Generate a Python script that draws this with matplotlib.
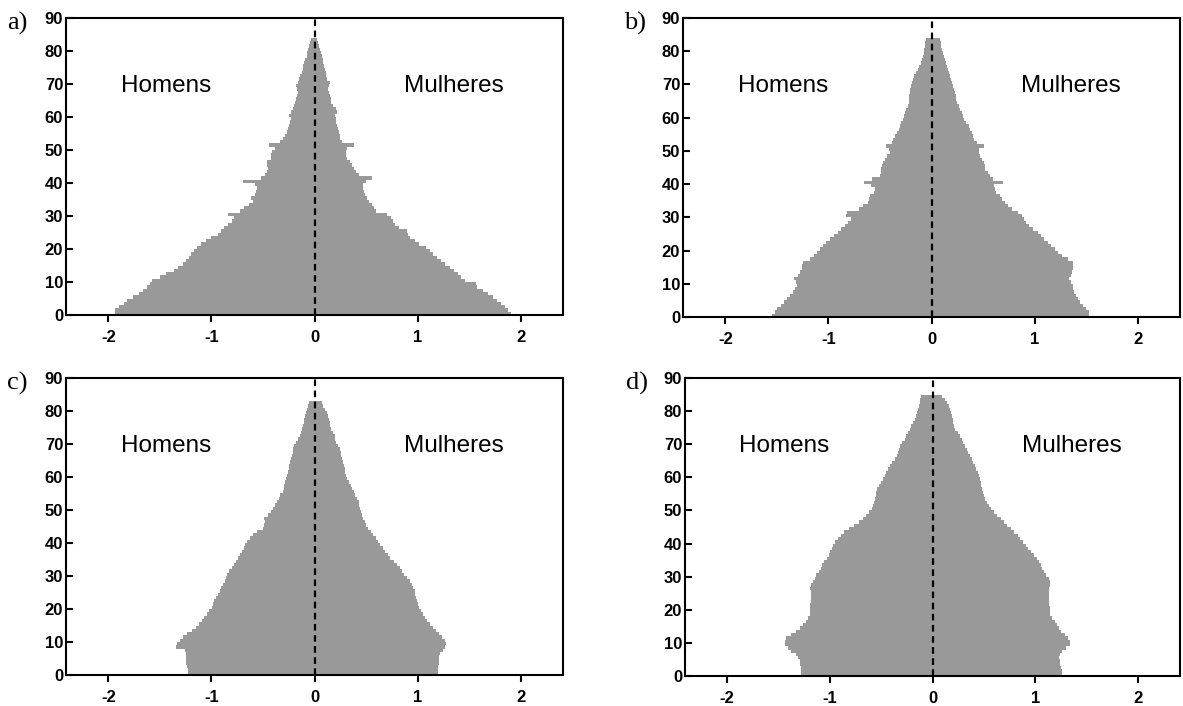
import numpy as np
from matplotlib import pyplot as plt

plt.rcParams['axes.unicode_minus'] = False

# valores por idade (0, 1, 2, ...), em % da populacao
a_hom = [1.93,1.93,1.90,1.85,1.82,1.76,1.70,1.66,1.62,1.60, 1.58,1.50,1.44,1.36,1.32,1.28,1.25,1.22,1.20,1.17,
         1.14,1.10,1.05,1.00,0.94,0.91,0.88,0.84,0.80,0.78, 0.84,0.72,0.68,0.64,0.60,0.62,0.58,0.57,0.56,0.58,
         0.69,0.52,0.48,0.46,0.45,0.46,0.46,0.42,0.42,0.41, 0.38,0.44,0.33,0.31,0.29,0.27,0.26,0.25,0.24,0.23,
         0.25,0.23,0.21,0.20,0.19,0.18,0.17,0.16,0.17,0.18, 0.16,0.15,0.14,0.12,0.11,0.11,0.10,0.09,0.07,0.07,
         0.06,0.05,0.04,0.03]
a_mul = [1.91,1.88,1.85,1.81,1.77,1.73,1.68,1.63,1.58,1.57, 1.46,1.42,1.39,1.35,1.31,1.27,1.23,1.19,1.15,1.12,
         1.08,1.01,0.97,0.93,0.91,0.90,0.82,0.78,0.76,0.74, 0.70,0.60,0.58,0.56,0.53,0.51,0.49,0.48,0.47,0.47,
         0.50,0.56,0.43,0.40,0.38,0.36,0.34,0.32,0.31,0.31, 0.32,0.38,0.27,0.25,0.25,0.24,0.23,0.22,0.21,0.21,
         0.20,0.22,0.21,0.18,0.16,0.16,0.15,0.14,0.13,0.14, 0.15,0.12,0.11,0.11,0.10,0.09,0.08,0.08,0.07,0.06,
         0.05,0.04,0.03,0.02]

b_hom = [1.55,1.52,1.50,1.46,1.43,1.40,1.37,1.34,1.32,1.30, 1.31,1.33,1.29,1.28,1.26,1.26,1.25,1.18,1.14,1.11,
         1.08,1.05,1.02,0.98,0.95,0.91,0.88,0.84,0.81,0.78, 0.83,0.82,0.70,0.66,0.62,0.61,0.60,0.56,0.55,0.59,
         0.65,0.58,0.50,0.49,0.49,0.48,0.47,0.45,0.43,0.40, 0.41,0.44,0.38,0.37,0.35,0.33,0.32,0.31,0.30,0.28,
         0.27,0.26,0.25,0.23,0.22,0.22,0.22,0.21,0.21,0.20, 0.19,0.18,0.17,0.15,0.13,0.12,0.10,0.09,0.08,0.07,
         0.07,0.06,0.06,0.05]
b_mul = [1.53,1.53,1.50,1.47,1.44,1.42,1.40,1.38,1.37,1.37, 1.35,1.33,1.35,1.36,1.37,1.37,1.37,1.32,1.27,1.23,
         1.20,1.16,1.13,1.09,1.06,1.03,0.98,0.95,0.92,0.90, 0.88,0.84,0.78,0.74,0.71,0.68,0.66,0.63,0.62,0.61,
         0.69,0.60,0.57,0.55,0.52,0.52,0.51,0.49,0.47,0.46, 0.46,0.51,0.44,0.41,0.40,0.39,0.37,0.36,0.33,0.32,
         0.31,0.30,0.28,0.27,0.25,0.24,0.24,0.23,0.22,0.21, 0.20,0.19,0.18,0.17,0.16,0.15,0.14,0.13,0.12,0.11,
         0.10,0.09,0.09,0.08]

c_hom = [1.23,1.23,1.24,1.25,1.25,1.25,1.25,1.26,1.34,1.33, 1.30,1.28,1.24,1.19,1.15,1.12,1.09,1.07,1.04,1.02,
         0.99,0.98,0.97,0.96,0.94,0.92,0.91,0.89,0.87,0.86, 0.85,0.83,0.80,0.78,0.76,0.74,0.72,0.70,0.68,0.67,
         0.65,0.63,0.60,0.56,0.50,0.49,0.48,0.49,0.45,0.42, 0.40,0.38,0.36,0.34,0.33,0.31,0.30,0.30,0.29,0.28,
         0.27,0.26,0.25,0.25,0.24,0.23,0.22,0.21,0.21,0.20, 0.18,0.16,0.14,0.13,0.12,0.11,0.10,0.10,0.09,0.08,
         0.07,0.06,0.05]
c_mul = [1.20,1.20,1.20,1.21,1.21,1.21,1.22,1.25,1.27,1.28, 1.27,1.24,1.21,1.18,1.15,1.12,1.09,1.07,1.05,1.03,
         1.01,1.00,0.99,0.98,0.97,0.97,0.96,0.95,0.93,0.90, 0.87,0.85,0.83,0.80,0.77,0.73,0.71,0.68,0.66,0.64,
         0.62,0.60,0.57,0.55,0.52,0.50,0.49,0.47,0.46,0.45, 0.44,0.43,0.43,0.41,0.39,0.38,0.36,0.35,0.33,0.32,
         0.31,0.30,0.30,0.29,0.28,0.27,0.26,0.26,0.25,0.23, 0.21,0.20,0.20,0.18,0.16,0.15,0.15,0.14,0.13,0.12,
         0.10,0.08,0.07]

d_hom = [1.28,1.28,1.28,1.29,1.29,1.31,1.33,1.38,1.41,1.44, 1.44,1.43,1.38,1.33,1.29,1.26,1.23,1.21,1.19,1.19,
         1.19,1.19,1.18,1.18,1.18,1.18,1.19,1.18,1.16,1.14, 1.13,1.11,1.09,1.08,1.06,1.03,1.01,1.00,0.98,0.97,
         0.95,0.92,0.89,0.86,0.81,0.76,0.72,0.68,0.65,0.62, 0.59,0.58,0.57,0.56,0.55,0.55,0.54,0.52,0.50,0.48,
         0.46,0.45,0.43,0.41,0.39,0.37,0.35,0.34,0.33,0.32, 0.30,0.27,0.26,0.24,0.22,0.21,0.19,0.17,0.16,0.15,
         0.14,0.13,0.12,0.12,0.11]
d_mul = [1.26,1.26,1.25,1.24,1.24,1.23,1.24,1.26,1.30,1.34, 1.34,1.32,1.29,1.25,1.23,1.21,1.19,1.16,1.14,1.14,
         1.14,1.13,1.13,1.13,1.13,1.13,1.13,1.14,1.14,1.13, 1.11,1.09,1.07,1.06,1.04,1.02,0.99,0.96,0.93,0.91,
         0.88,0.85,0.83,0.79,0.76,0.73,0.70,0.67,0.63,0.60, 0.57,0.55,0.53,0.51,0.50,0.49,0.48,0.47,0.47,0.46,
         0.45,0.44,0.42,0.41,0.39,0.38,0.37,0.35,0.34,0.32, 0.30,0.29,0.27,0.25,0.22,0.21,0.20,0.20,0.19,0.18,
         0.17,0.16,0.14,0.12,0.09]

paineis = ['a)', 'b)', 'c)', 'd)']
dados = [(a_hom, a_mul), (b_hom, b_mul), (c_hom, c_mul), (d_hom, d_mul)]

W, H = 1183, 706
# caixas dos eixos em pixels: esquerda, direita, topo, base
caixas = [(66, 563, 18, 315), (683, 1180, 18, 317), (66, 563, 378, 675), (685, 1180, 378, 676)]

fig = plt.figure(figsize=(W / 100, H / 100), dpi=100)
cinza = '#999999'

for lab, (hom, mul), (x0, x1, y0, y1) in zip(paineis, dados, caixas):
    ax = fig.add_axes([x0 / W, 1 - y1 / H, (x1 - x0) / W, (y1 - y0) / H])
    idades_h = np.arange(len(hom))
    idades_m = np.arange(len(mul))
    ax.barh(idades_h, -np.array(hom), height=1.0, align='edge', color=cinza, linewidth=0)
    ax.barh(idades_m, np.array(mul), height=1.0, align='edge', color=cinza, linewidth=0)
    ax.axvline(0, color='black', linestyle=(0, (3, 2)), linewidth=1.6)

    ax.set_xlim(-2.41, 2.41)
    ax.set_ylim(0, 90)
    ax.set_xticks([-2, -1, 0, 1, 2])
    ax.set_yticks(range(0, 91, 10))
    ax.tick_params(axis='y', direction='in', length=5, width=1.5, pad=2,
                   labelsize=12)
    ax.tick_params(axis='x', direction='out', length=5, width=1.5, pad=6,
                   labelsize=12)
    for t in ax.get_xticklabels() + ax.get_yticklabels():
        t.set_fontfamily('Liberation Sans')
        t.set_fontweight('bold')
    ax.tick_params(top=False, right=False)
    for s in ax.spines.values():
        s.set_linewidth(1.5)

    ax.text(-1.88, 69.5, 'Homens', fontsize=17.5, family='Liberation Sans',
            ha='left', va='center')
    ax.text(0.87, 69.5, 'Mulheres', fontsize=17.5, family='Liberation Sans',
            ha='left', va='center')

    fig.text((x0 - 59) / W, 1 - (y0 + 5) / H, lab, fontsize=19,
             family='Liberation Serif', ha='left', va='center')

fig.savefig('out.png', dpi=100)
